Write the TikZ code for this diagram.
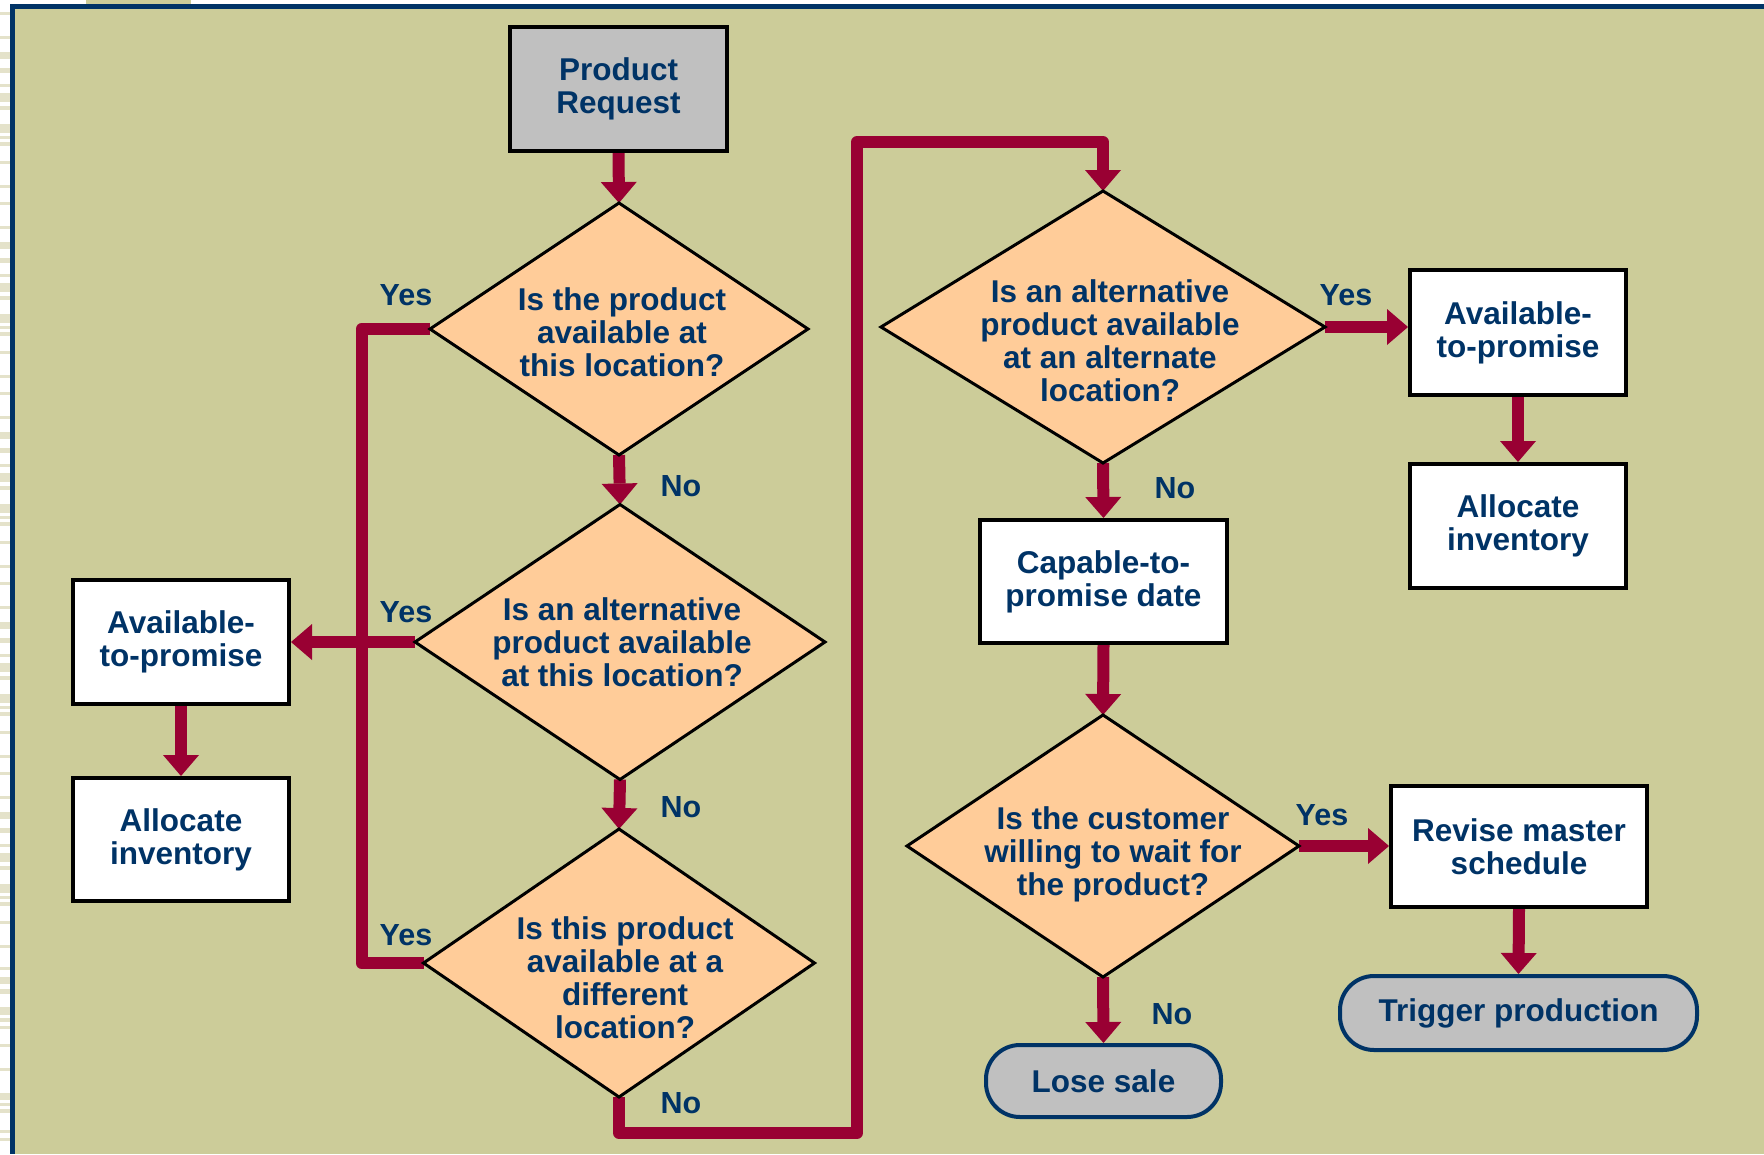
\documentclass[tikz,border=0pt]{standalone}
\usepackage{fontspec}
\setmainfont{Liberation Sans}
\usetikzlibrary{shapes.geometric,arrows.meta}
\definecolor{bgc}{HTML}{CCCC99}
\definecolor{framec}{HTML}{003366}
\definecolor{txtc}{HTML}{003366}
\definecolor{redc}{HTML}{990033}
\definecolor{diac}{HTML}{FFCC99}
\definecolor{grayc}{HTML}{C0C0C0}
\definecolor{stripc}{HTML}{E4E2CA}
\pgfdeclarelayer{back}
\pgfdeclarelayer{conn}
\pgfsetlayers{back,conn,main}
\begin{document}
\begin{tikzpicture}[x=1pt,y=-1pt,
  txt/.style={text=txtc, font=\fontsize{31.5}{33}\selectfont\bfseries, align=center, inner sep=0pt},
  lbl/.style={text=txtc, font=\fontsize{30.5}{33}\selectfont\bfseries, inner sep=0pt},
  box/.style={txt, rectangle, draw=black, line width=4pt, fill=white},
  pill/.style={txt, rectangle, draw=framec, line width=4pt, fill=grayc, rounded corners=34pt},
  dia/.style={diamond, draw=black, line width=3pt, fill=diac, inner sep=0pt, outer sep=0pt},
  conn/.style={draw=redc, line width=12pt, line join=round},
  arr/.style={conn, -{Triangle[width=36pt,length=21pt,line width=0pt]}}
]
\useasboundingbox (0,0) rectangle (1764,1154);

% ---------- nodes ----------
\node[box, fill=grayc, minimum width=217pt, minimum height=124pt] (pr) at (618.5,89) {Product\\Request};

\node[dia, minimum width=378pt, minimum height=252pt] (d1) at (619,329) {};
\node[txt] (t1) at (622,332) {Is the product\\available at\\this location?};

\node[dia, minimum width=410pt, minimum height=275pt] (d2) at (620,642) {};
\node[txt] (t2) at (622,642) {Is an alternative\\product available\\at this location?};

\node[dia, minimum width=391pt, minimum height=268pt] (d3) at (619,963) {};
\node[txt] (t3) at (625,978) {Is this product\\available at a\\different\\location?};

\node[box, minimum width=216pt, minimum height=124pt] (latp) at (181,642) {Available-\\to-promise};
\node[box, minimum width=216pt, minimum height=123pt] (lall) at (181,839.5) {Allocate\\inventory};

\node[dia, minimum width=444pt, minimum height=272pt] (d4) at (1103,327) {};
\node[txt] (t4) at (1110,341) {Is an alternative\\product available\\at an alternate\\location?};

\node[box, minimum width=216pt, minimum height=125pt] (ratp) at (1518,332.5) {Available-\\to-promise};
\node[box, minimum width=216pt, minimum height=124pt] (rall) at (1518,526) {Allocate\\inventory};

\node[box, minimum width=247pt, minimum height=123pt] (ctp) at (1103.5,581.5) {Capable-to-\\promise date};

\node[dia, minimum width=392pt, minimum height=262pt] (d5) at (1103,846) {};
\node[txt] (t5) at (1113,854) {Is the customer\\willing to wait for\\the product?};

\node[box, minimum width=256pt, minimum height=121pt] (rev) at (1519,846.5) {Revise master\\schedule};
\node[pill, minimum width=235pt, minimum height=72pt] (lose) at (1103.5,1081) {Lose sale};
\node[pill, minimum width=357pt, minimum height=74pt] (trig) at (1518.5,1013) {Trigger production};

% ---------- labels ----------
\node[lbl] (y1) at (406,295) {Yes};
\node[lbl] (n1) at (681,486) {No};
\node[lbl] (y2) at (406,612) {Yes};
\node[lbl] (n2) at (681,807) {No};
\node[lbl] (y3) at (406,935) {Yes};
\node[lbl] (n3) at (681,1103) {No};
\node[lbl] (y4) at (1346,295) {Yes};
\node[lbl] (n4) at (1175,488) {No};
\node[lbl] (y5) at (1322,815) {Yes};
\node[lbl] (n5) at (1172,1014) {No};

\coordinate (yx) at (361.5,0);
\coordinate (nc1) at (857,1133);
\coordinate (nc2) at (857,142);

% ---------- connectors ----------
\begin{pgfonlayer}{conn}
\draw[arr] (pr.south) -- (d1.north);
\draw[arr] (d1.south) -- (d2.north);
\draw[arr] (d2.south) -- (d3.north);
\draw[conn] (d1.west) -- (d1.west -| yx) -- (d3.west -| yx) -- (d3.west);
\draw[arr] (d2.west) -- (d2.west -| latp.east);
\draw[arr] (latp.south) -- (lall.north);
\draw[arr] (d3.south) -- (d3.south |- nc1) -- (nc1) -- (nc2) -- (nc2 -| d4.north) -- (d4.north);
\draw[arr] (d4.east) -- (d4.east -| ratp.west);
\draw[arr] (ratp.south) -- (rall.north);
\draw[arr] (d4.south) -- (ctp.north);
\draw[arr] (ctp.south) -- (d5.north);
\draw[arr] (d5.east) -- (d5.east -| rev.west);
\draw[arr] (rev.south) -- (trig.north);
\draw[arr] (d5.south) -- (lose.north);
\end{pgfonlayer}

% ---------- background ----------
\begin{pgfonlayer}{back}
\fill[white] (0,0) rectangle (1764,1154);
\fill[bgc] (15,9) rectangle (1764,1154);
\fill[bgc] (86,0) rectangle (191,4);
\foreach \o in {0,190,380,570,760}{
  \foreach \a/\h in {12/3,36/3,52/7,68/5,84/3,93/9,106/4,124/9,136/3,142/4,161/3,185/3}{
    \fill[stripc] (0,\o+\a) rectangle (10,\o+\a+\h);
  }
}
\foreach \a/\h in {967/3,977/7,989/5,1007/8,1018/4,1026/3,1044/3,1068/3,1093/7,1103/3,1109/4,1130/3,1138/3}{
  \fill[stripc] (0,\a) rectangle (10,\a+\h);
}
\fill[framec] (10,4) rectangle (1764,9.3);
\fill[framec] (10,4) rectangle (15.3,1154);
\end{pgfonlayer}
\end{tikzpicture}
\end{document}
